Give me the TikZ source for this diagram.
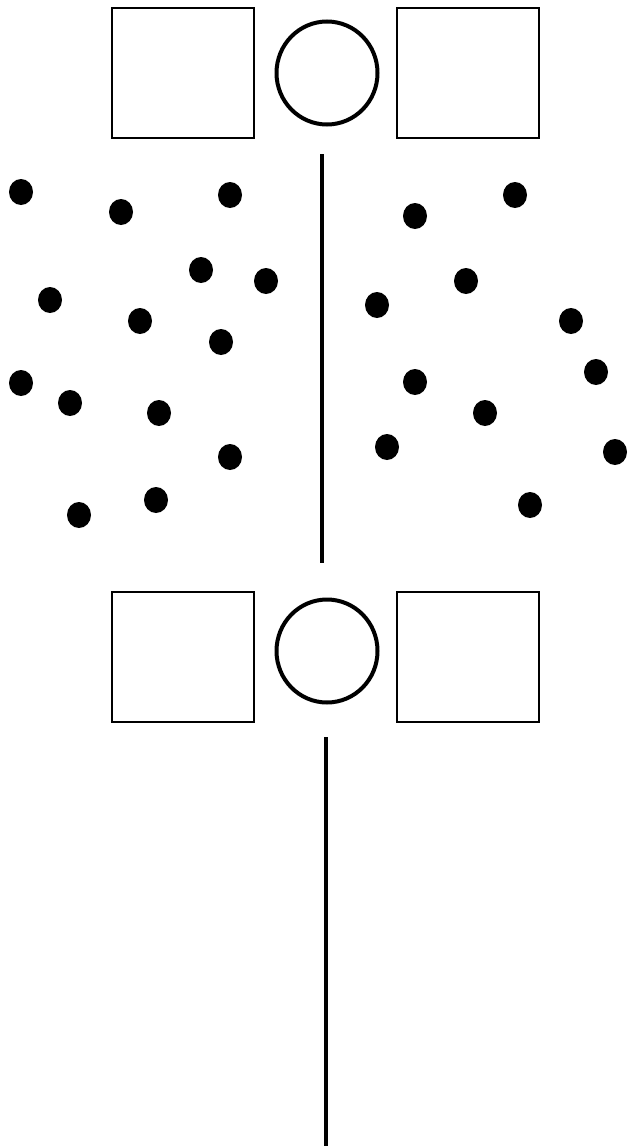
\documentclass[tikz,border=0pt]{standalone}
\usetikzlibrary{positioning}
\usetikzlibrary{shapes.geometric}
\tikzset{box/.style = {draw, line width=1.6pt, minimum width=142pt, minimum height=130pt, inner sep=0}}
\tikzset{ring/.style = {draw, line width=4pt, ellipse, minimum width=101pt, minimum height=103pt, inner sep=0}}
\tikzset{grain/.style = {fill, black}}
\tikzset{wall/.style = {line width=4pt}}

\begin{document}
\begin{tikzpicture}[x=1pt, y=-1pt]
      \useasboundingbox (0,0) rectangle (629,1146);
      % upper row
      \node[box] (boxTL) at (183,73) {};
      \node[ring] (ringT) at (327,73) {};
      \node[box] (boxTR) at (468,73) {};
      \coordinate (wallTa) at (322,154);
      \coordinate (wallTb) at (322,563);
      \draw[wall] (wallTa) -- (wallTb);
      % particles
      \foreach \x/\y in {21/192, 121/212, 230/195, 50/300, 201/270, 266/281,
                         140/321, 221/342, 21/383, 70/403, 159/413, 230/457,
                         79/515, 156/500,
                         415/216, 515/195, 377/305, 466/281, 571/321, 596/372,
                         415/382, 485/413, 387/447, 615/452, 530/505}
        \fill[grain] (\x,\y) ellipse [x radius=12, y radius=13];
      % lower row
      \node[box] (boxBL) at (183,657) {};
      \node[ring] (ringB) at (327,651) {};
      \node[box] (boxBR) at (468,657) {};
      \coordinate (wallBa) at (326,737);
      \coordinate (wallBb) at (326,1146);
      \draw[wall] (wallBa) -- (wallBb);
    \end{tikzpicture}
\end{document}
